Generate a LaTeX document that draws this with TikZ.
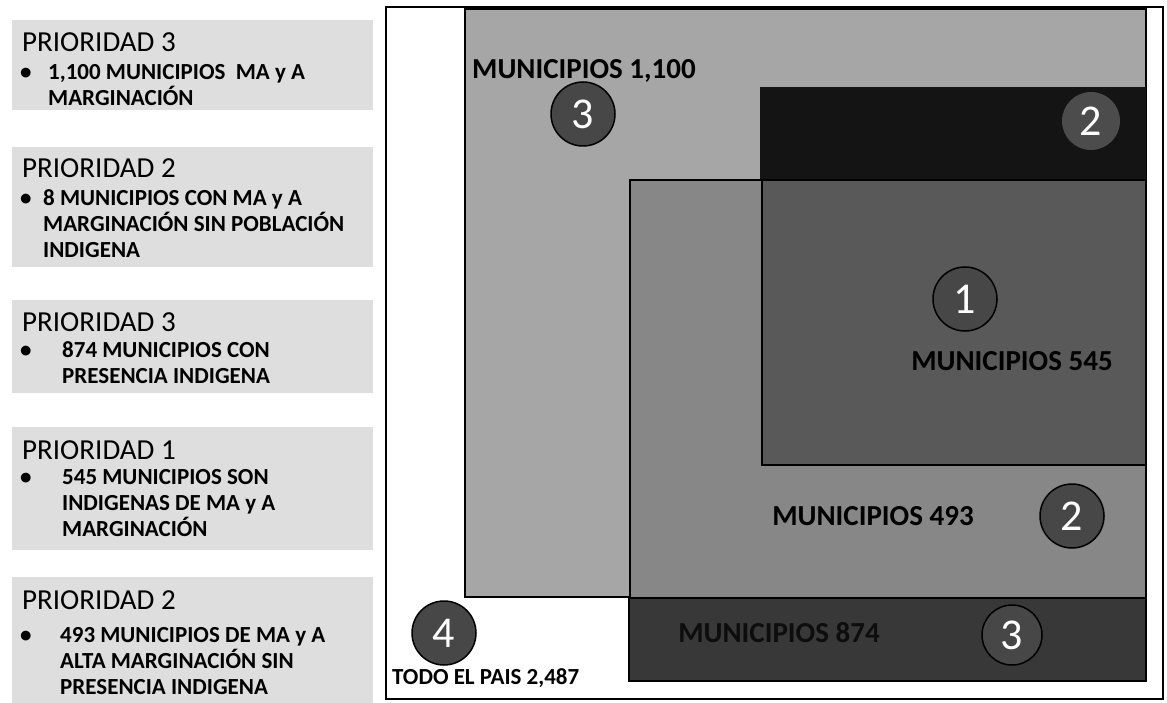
\documentclass[tikz,border=0pt]{standalone}
\usepackage{fontspec}
\setmainfont{Carlito}

\begin{document}
\begin{tikzpicture}[x=1pt,y=-1pt,
    prbg/.style={fill=black!13},
    prtitle/.style={anchor=base west, inner sep=0pt, font=\fontsize{29}{32}\selectfont},
    pritem/.style={anchor=north west, inner sep=0pt, align=left, font=\fontsize{23}{26}\selectfont\bfseries},
    zone/.style={draw=black, line width=2pt},
    num/.style={circle, draw=black, line width=1.5pt, fill=black!72, minimum size=64pt, inner sep=0pt, text=white, font=\fontsize{44}{44}\selectfont},
    zlabel/.style={inner sep=0pt, font=\fontsize{29}{30}\selectfont\bfseries}]
      \useasboundingbox (0,0) rectangle (1167,703);
      %%%%%%%%%%%%%%%%%%%%%%%%%%%%%%%%%%%%%%%%%%%%%%%
      \fill[prbg] (12,20) rectangle (373,110);
      \fill[prbg] (12,147) rectangle (373,267);
      \fill[prbg] (12,300) rectangle (373,393);
      \fill[prbg] (12,427) rectangle (373,550);
      \fill[prbg] (12,577) rectangle (373,703);
      \node[prtitle] (t1) at (22,51.3)  {PRIORIDAD 3};
      \node[prtitle] (t2) at (22,177.3) {PRIORIDAD 2};
      \node[prtitle] (t3) at (22,331.3) {PRIORIDAD 3};
      \node[prtitle] (t4) at (22,459.3) {PRIORIDAD 1};
      \node[prtitle] (t5) at (22,609.3) {PRIORIDAD 2};
      \node[pritem] (i1) at (20,64.6)  {\makebox[28pt][l]{•}1,100 MUNICIPIOS\ \ MA y A\\\hspace*{28pt}MARGINACIÓN};
      \node[pritem] (i2) at (20,189.6) {\makebox[23pt][l]{•}8 MUNICIPIOS CON MA y A\\\hspace*{23pt}MARGINACIÓN SIN POBLACIÓN\\\hspace*{23pt}INDIGENA};
      \node[pritem] (i3) at (20,341.6) {\makebox[42pt][l]{•}874 MUNICIPIOS CON\\\hspace*{42pt}PRESENCIA INDIGENA};
      \node[pritem] (i4) at (20,469.6) {\makebox[42pt][l]{•}545 MUNICIPIOS SON\\\hspace*{42pt}INDIGENAS DE MA y A\\\hspace*{42pt}MARGINACIÓN};
      \node[pritem] (i5) at (20,627.6) {\makebox[40pt][l]{•}493 MUNICIPIOS DE MA y A\\\hspace*{40pt}ALTA MARGINACIÓN SIN\\\hspace*{40pt}PRESENCIA INDIGENA};
      %%%%%%%%%%%%%%%%%%%%%%%%%%%%%%%%%%%%%%%%%%%%%%%
      \draw[line width=1.5pt, fill=white] (386,7) rectangle (1163,699);
      \draw[zone, fill=black!35] (465,9) rectangle (1146,597);
      \fill[black!92] (760,87) rectangle (1146,180);
      \draw[zone, fill=black!47] (630,180) rectangle (1146,598);
      \draw[zone, fill=black!65] (762,180) rectangle (1146,465);
      \draw[zone, fill=black!78] (629,598) rectangle (1146,681);
      %%%%%%%%%%%%%%%%%%%%%%%%%%%%%%%%%%%%%%%%%%%%%%%
      \node[num] (c3a) at (583,114) {3};
      \node[num, draw=none, fill=black!70, minimum size=58pt] (c2a) at (1091,121) {2};
      \node[num] (c1) at (965,299) {1};
      \node[num] (c2b) at (1072,516) {2};
      \node[num, minimum size=60pt] (c3b) at (1012,635) {3};
      \node[num] (c4) at (444,633) {4};
      %%%%%%%%%%%%%%%%%%%%%%%%%%%%%%%%%%%%%%%%%%%%%%%
      \node[zlabel, anchor=west] (l1100) at (472,71) {MUNICIPIOS 1,100};
      \node[zlabel] (l545) at (1012,361) {MUNICIPIOS 545};
      \node[zlabel] (l493) at (873,516) {MUNICIPIOS 493};
      \node[zlabel, text=black!95] (l874) at (779,633) {MUNICIPIOS 874};
      \node[zlabel, anchor=west, font=\fontsize{23}{24}\selectfont\bfseries] (lpais) at (392,678) {TODO EL PAIS 2,487};
    \end{tikzpicture}
\end{document}
